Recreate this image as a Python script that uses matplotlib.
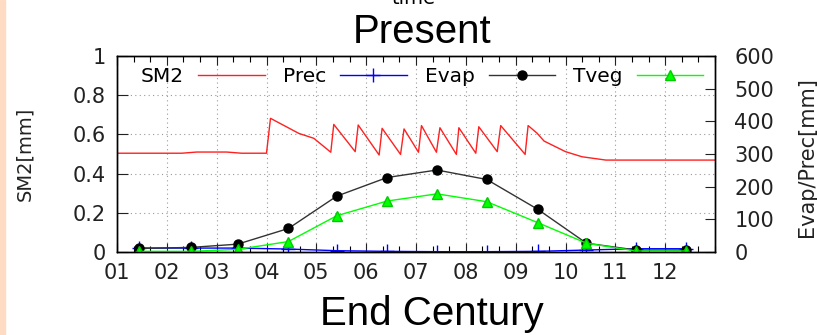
import matplotlib
matplotlib.use("Agg")
import matplotlib.pyplot as plt
from matplotlib.ticker import MultipleLocator, FixedLocator
import numpy as np

# month labels on the time axis
month_labels = ['01', '02', '03', '04', '05', '06', '07', '08', '09', '10', '11', '12']
month_pos = [1, 2, 3, 4, 5, 6, 7, 8, 9, 10, 11, 12]

# monthly values (mm), plotted at mid-month
mid_month = [1.45, 2.48, 3.42, 4.44, 5.41, 6.42, 7.42, 8.42, 9.44, 10.42, 11.42, 12.42]
prec = [12, 12, 12, 9, 4, 2, 1, 1, 2, 6, 10, 10]
evap = [11, 14, 24, 72, 171, 228, 251, 222, 131, 27, 6, 6]
tveg = [2, 2, 8, 32, 111, 156, 178, 154, 90, 27, 3, 3]

# soil moisture SM2 time series
sm2_t = [1.0, 2.3, 2.6, 3.2, 3.5, 4.0, 4.08, 4.65, 4.95, 5.29, 5.35, 5.78, 5.84,
         6.26, 6.32, 6.69, 6.76, 7.05, 7.11, 7.41, 7.48, 7.81, 7.86, 8.20, 8.26,
         8.63, 8.70, 9.19, 9.25, 9.43, 9.57, 10.0, 10.33, 10.47, 10.81, 13.0]
sm2 = [0.504, 0.504, 0.51, 0.51, 0.504, 0.504, 0.682, 0.605, 0.58, 0.509, 0.651,
       0.512, 0.648, 0.495, 0.631, 0.498, 0.628, 0.509, 0.645, 0.509, 0.634, 0.498,
       0.634, 0.504, 0.639, 0.512, 0.645, 0.498, 0.645, 0.606, 0.566, 0.512, 0.486,
       0.481, 0.469, 0.469]

fig = plt.figure(figsize=(8.17, 3.35), dpi=100)
ax = fig.add_axes([117/817, 1-252/335, 598/817, 196/335])
ax2 = ax.twinx()

l1, = ax.plot(sm2_t, sm2, color='#ff2020', lw=1.0, label='SM2')
l2, = ax2.plot(mid_month, prec, color='#0000ff', lw=1.0, marker='+', ms=10, mew=1.0, label='Prec')
l3, = ax2.plot(mid_month, evap, color='#333333', lw=1.0, marker='o', ms=6.5,
               mfc='black', mec='black', label='Evap')
l4, = ax2.plot(mid_month, tveg, color='#00ff00', lw=1.0, marker='^', ms=6.5,
               mfc='#00ff00', mec='#00cc00', label='Tveg')

ax.set_xlim(1, 13)
ax.set_ylim(0, 1)
ax2.set_ylim(0, 600)

ax.xaxis.set_major_locator(FixedLocator(month_pos))
ax.set_xticklabels(month_labels)
ax.xaxis.set_minor_locator(MultipleLocator(1/3))
ax.set_yticks([0, 0.2, 0.4, 0.6, 0.8, 1.0])
ax.set_yticklabels(['0', '0.2', '0.4', '0.6', '0.8', '1'])
ax2.set_yticks([0, 100, 200, 300, 400, 500, 600])

ax.tick_params(axis='x', which='major', direction='in', top=True, length=6.5, width=0.8,
               labelsize=15, pad=8, colors='#222222')
ax.tick_params(axis='x', which='minor', direction='in', top=True, length=4, width=0.8)
ax.tick_params(axis='y', which='major', direction='in', right=False, length=8, width=0.8,
               labelsize=15, pad=8, colors='#222222')
ax2.tick_params(axis='y', direction='in', length=7, width=0.8, labelsize=15, pad=14,
                colors='#222222')

ax.grid(True, which='major', color='#999999', linestyle=(0, (1, 3)), linewidth=0.8)
for a in (ax, ax2):
    for s in a.spines.values():
        s.set_linewidth(1.0)
        s.set_color('black')

fig.text(25/817, 0.54, 'SM2[mm]', rotation=90, ha='center', va='center', fontsize=14,
         color='#222222')
fig.text(807/817, 1-157/335, 'Evap/Prec[mm]', rotation=90, ha='center', va='center',
         fontsize=15, color='#222222')

ax2.legend([l1, l2, l3, l4], ['SM2', 'Prec', 'Evap', 'Tveg'], loc='center left',
           bbox_to_anchor=(0.04, 0.893), ncol=4, markerfirst=False, frameon=False,
           fontsize=14.5, handlelength=3.3, handletextpad=0.7, columnspacing=0.9,
           borderaxespad=0, borderpad=0)

fig.text(421.7/817, 1-42.7/335, 'Present', ha='center', va='baseline', fontsize=29,
         family='Liberation Sans')
fig.text(432/817, 1-325/335, 'End Century', ha='center', va='baseline', fontsize=29,
         family='Liberation Sans')
# axis title of the panel above, cropped at the top edge as in the original
fig.text(413/817, 1-4/335, 'time', ha='center', va='baseline', fontsize=14)

fig.patches.append(plt.Rectangle((0, 0), 5/817, 1, transform=fig.transFigure,
                                 color='#fddcc3', zorder=0))

fig.savefig('out.png', dpi=100)
